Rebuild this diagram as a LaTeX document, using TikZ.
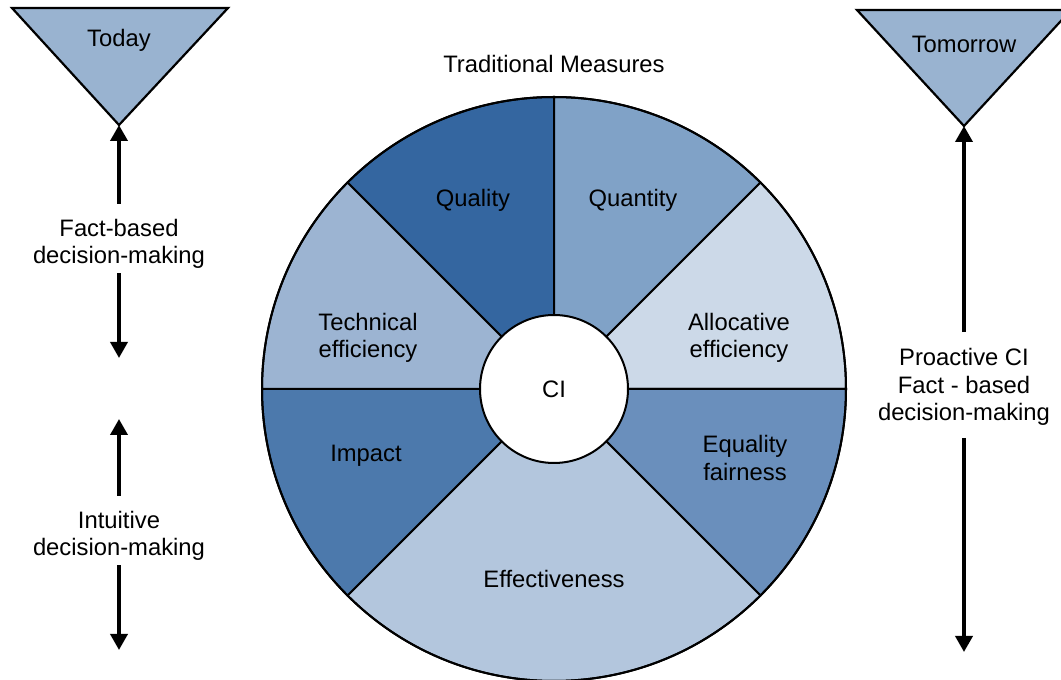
\documentclass[tikz,border=0pt]{standalone}
\usepackage{fontspec}
\setmainfont{Liberation Sans}
\usetikzlibrary{arrows.meta}

\definecolor{cQuality}{HTML}{3466A0}
\definecolor{cQuantity}{HTML}{80A2C7}
\definecolor{cAlloc}{HTML}{CCD9E8}
\definecolor{cEqual}{HTML}{6A8FBC}
\definecolor{cEffect}{HTML}{B3C6DD}
\definecolor{cImpact}{HTML}{4C79AC}
\definecolor{cTech}{HTML}{9CB4D2}
\definecolor{cTri}{HTML}{99B3D0}

\tikzset{
  lbl/.style={font=\fontsize{23.8}{27.5}\selectfont, align=center, inner sep=0pt, yshift=-2pt},
  sector/.style={draw=black, line width=2pt, line join=round},
  tri/.style={draw=black, fill=cTri, line width=2.2pt, line join=miter},
  bigarrow/.style={line width=3.6pt, -{Triangle[length=16pt,width=17pt]}},
}

\begin{document}
\begin{tikzpicture}[x=1pt,y=1pt]
\useasboundingbox (0,0) rectangle (1061,680);

% wheel centre and radii
\coordinate (C) at (554,291);
\def\Ro{292}
\def\Ri{74}

% sectors of the wheel
\foreach \a/\b/\col in {90/135/cQuality, 45/90/cQuantity, 0/45/cAlloc,
  -45/0/cEqual, -135/-45/cEffect, 180/225/cImpact, 135/180/cTech}{
  \filldraw[sector, fill=\col] (C) -- ++(\a:\Ro)
    arc[start angle=\a, end angle=\b, radius=\Ro] -- cycle;
}
\draw[line width=2pt] (C) circle[radius=\Ro];

% centre disc
\node[circle, draw=black, fill=white, line width=2pt, minimum size=148pt,
      font=\fontsize{23.8}{27.5}\selectfont] (ci) at (C) {CI};

% sector labels
\node[lbl] (quality)  at (473,482) {Quality};
\node[lbl] (quantity) at (633,482) {Quantity};
\node[lbl] (tech)     at (368,344) {Technical\\efficiency};
\node[lbl] (alloc)    at (739,344) {Allocative\\efficiency};
\node[lbl] (impact)   at (366,226) {Impact};
\node[lbl] (equal)    at (745,224) {Equality\\fairness};
\node[lbl] (effect)   at (554,103) {Effectiveness};
\node[lbl] (trad)     at (554,618) {Traditional Measures};

% time markers
\draw[tri] (12,672) -- (228,672) -- (119,555) -- cycle;
\coordinate (todayapex) at (119,555);
\node[lbl] (today) at (119,642) {Today};

\draw[tri] (857,670) -- (1071,670) -- (964,554) -- cycle;
\coordinate (tomorrowapex) at (964,554);
\node[lbl] (tomorrow) at (964,638) {Tomorrow};

% left column
\node[lbl] (fact) at (119,438) {Fact-based\\decision-making};
\node[lbl] (intu) at (119,146) {Intuitive\\decision-making};
\coordinate (factend)  at (119,322);
\coordinate (intutop)  at (119,261);
\coordinate (intuend)  at (119,30);

\draw[bigarrow] ([yshift=15pt]fact.north) -- (todayapex);
\draw[bigarrow] ([yshift=-4pt]fact.south) -- (factend);
\draw[bigarrow] ([yshift=15pt]intu.north) -- (intutop);
\draw[bigarrow] ([yshift=-4pt]intu.south) -- (intuend);

% right column
\node[lbl] (proact) at (964,295) {Proactive CI\\Fact - based\\decision-making};
\coordinate (proactend) at (964,28);
\draw[bigarrow] ([yshift=16pt]proact.north) -- (tomorrowapex);
\draw[bigarrow] ([yshift=-12pt]proact.south) -- (proactend);
\end{tikzpicture}
\end{document}
